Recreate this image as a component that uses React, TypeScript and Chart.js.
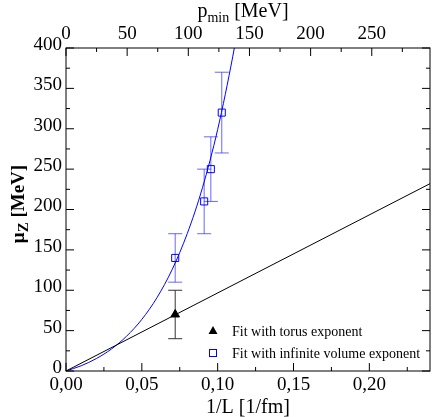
import React, { useEffect, useRef } from 'react';
import { Chart, registerables } from 'chart.js';
Chart.register(...registerables);

const SERIF = '"Liberation Serif", "Times New Roman", Times, serif';

// ---- data ----
const infX = [0.072, 0.0911, 0.0955, 0.1027];
const infY = [140, 210, 250, 320];
const infErr = [30, 40, 40, 50];

const torX = [0.072];
const torY = [70];
const torErr = [30];

const torFitX = [0, 0.24];
const torFitY = [0, 232];

const infFitX = [0, 0.01, 0.02, 0.03, 0.04, 0.05, 0.06, 0.07, 0.08, 0.09, 0.1, 0.11, 0.115];
const infFitY = [0, 6.5, 15.4, 27.3, 43.2, 63.9, 90.9, 125.7, 170.4, 227.1, 299.1, 389.9, 443];

const xTicks = [0, 0.05, 0.1, 0.15, 0.2];
const xTickLabels = ['0,00', '0,05', '0,10', '0,15', '0,20'];
const pTicks = [0, 50, 100, 150, 200, 250];
const yTicks = [0, 50, 100, 150, 200, 250, 300, 350, 400];

const legendLabels = ['Fit with torus exponent', 'Fit with infinite volume exponent'];

const X_MAX = 0.24;
const P_MAX = 297.6;
const Y_MAX = 400;

const BLUE = '#0000ff';

const pts = (xs: number[], ys: number[]) => xs.map((x, i) => ({ x, y: ys[i] }));

const decor = {
  id: 'decor',
  beforeDatasetsDraw(chart: any) {
    const { ctx } = chart;
    const x = chart.scales.x;
    const y = chart.scales.y;
    ctx.save();
    ctx.lineWidth = 1;
    const bars = (xs: number[], ys: number[], es: number[], color: string) => {
      ctx.strokeStyle = color;
      xs.forEach((xv, i) => {
        const px = x.getPixelForValue(xv);
        const pt = y.getPixelForValue(ys[i] + es[i]);
        const pb = y.getPixelForValue(ys[i] - es[i]);
        ctx.beginPath();
        ctx.moveTo(px, pt);
        ctx.lineTo(px, pb);
        ctx.moveTo(px - 7, pt);
        ctx.lineTo(px + 7, pt);
        ctx.moveTo(px - 7, pb);
        ctx.lineTo(px + 7, pb);
        ctx.stroke();
      });
    };
    bars(infX, infY, infErr, 'rgba(40,40,255,0.7)');
    bars(torX, torY, torErr, '#333');
    ctx.restore();
  },
  afterDraw(chart: any) {
    const { ctx, chartArea } = chart;
    const { left, right, top, bottom } = chartArea;
    const x = chart.scales.x;
    const x2 = chart.scales.x2;
    const y = chart.scales.y;
    ctx.save();
    ctx.strokeStyle = '#000';
    ctx.lineWidth = 1;
    // frame
    ctx.strokeRect(left, top, right - left, bottom - top);

    const line = (a: number, b: number, c: number, d: number) => {
      ctx.beginPath();
      ctx.moveTo(a, b);
      ctx.lineTo(c, d);
      ctx.stroke();
    };
    const MAJ = 8;
    const MIN = 4;
    // bottom axis ticks
    const xs = xTicks[1] - xTicks[0];
    xTicks.forEach((v) => {
      const p = x.getPixelForValue(v);
      line(p, bottom, p, bottom - MAJ);
      if (v + xs / 2 < X_MAX) {
        const q = x.getPixelForValue(v + xs / 2);
        line(q, bottom, q, bottom - MIN);
      }
    });
    // top axis ticks
    const ps = pTicks[1] - pTicks[0];
    pTicks.forEach((v) => {
      const p = x2.getPixelForValue(v);
      line(p, top, p, top + MAJ);
      if (v + ps / 2 < P_MAX) {
        const q = x2.getPixelForValue(v + ps / 2);
        line(q, top, q, top + MIN);
      }
    });
    // left & right ticks
    const ys = yTicks[1] - yTicks[0];
    yTicks.forEach((v) => {
      const p = y.getPixelForValue(v);
      line(left, p, left + MAJ, p);
      line(right, p, right - MAJ, p);
      if (v + ys / 2 < Y_MAX) {
        const q = y.getPixelForValue(v + ys / 2);
        line(left, q, left + MIN, q);
        line(right, q, right - MIN, q);
      }
    });

    // titles
    ctx.fillStyle = '#000';
    ctx.textBaseline = 'alphabetic';
    const cx = (left + right) / 2;
    ctx.textAlign = 'center';
    ctx.font = `20px ${SERIF}`;
    ctx.fillText('1/L [1/fm]', cx, 413);

    // top title p_min [MeV]
    ctx.textAlign = 'left';
    const fBig = `20px ${SERIF}`;
    const fSub = `14px ${SERIF}`;
    ctx.font = fBig;
    const wp = ctx.measureText('p').width;
    const wr = ctx.measureText(' [MeV]').width;
    ctx.font = fSub;
    const wm = ctx.measureText('min').width;
    let sx = cx - 5 - (wp + wm + wr) / 2;
    ctx.font = fBig;
    ctx.fillText('p', sx, 17);
    sx += wp;
    ctx.font = fSub;
    ctx.fillText('min', sx, 22);
    sx += wm;
    ctx.font = fBig;
    ctx.fillText(' [MeV]', sx, 17);

    // y title μ_Z [MeV]
    ctx.save();
    ctx.translate(24, 204);
    ctx.rotate(-Math.PI / 2);
    const yBig = `bold 19px ${SERIF}`;
    const ySub = `bold 15px ${SERIF}`;
    ctx.font = yBig;
    const wmu = ctx.measureText('\u03bc').width;
    const wrest = ctx.measureText(' [MeV]').width;
    ctx.font = ySub;
    const wz = ctx.measureText('Z').width;
    let ty = -(wmu + wz + wrest) / 2;
    ctx.font = yBig;
    ctx.fillText('\u03bc', ty, 0);
    ty += wmu;
    ctx.font = ySub;
    ctx.fillText('Z', ty, 4);
    ty += wz;
    ctx.font = yBig;
    ctx.fillText(' [MeV]', ty, 0);
    ctx.restore();

    // legend
    ctx.font = `14px ${SERIF}`;
    ctx.textBaseline = 'middle';
    ctx.textAlign = 'left';
    const lx = 213;
    const ly1 = 331;
    const ly2 = 353;
    ctx.fillStyle = '#000';
    ctx.beginPath();
    ctx.moveTo(lx, ly1 - 5);
    ctx.lineTo(lx + 4.5, ly1 + 3);
    ctx.lineTo(lx - 4.5, ly1 + 3);
    ctx.closePath();
    ctx.fill();
    ctx.fillText(legendLabels[0], 232, ly1 + 1);
    ctx.strokeStyle = BLUE;
    ctx.strokeRect(lx - 3.5, ly2 - 3.5, 7, 7);
    ctx.fillStyle = '#000';
    ctx.fillText(legendLabels[1], 232, ly2 + 1);
    ctx.restore();
  },
};

export default function App() {
  const ref = useRef<HTMLCanvasElement | null>(null);
  useEffect(() => {
    if (!ref.current) return;
    const tickFont = { family: SERIF, size: 19 };
    const chart = new Chart(ref.current, {
      type: 'scatter',
      data: {
        datasets: [
          {
            type: 'line',
            data: pts(torFitX, torFitY),
            borderColor: '#000',
            borderWidth: 1,
            pointRadius: 0,
            fill: false,
            xAxisID: 'x',
            yAxisID: 'y',
          },
          {
            type: 'line',
            data: pts(infFitX, infFitY),
            borderColor: BLUE,
            borderWidth: 1,
            pointRadius: 0,
            fill: false,
            cubicInterpolationMode: 'monotone',
            xAxisID: 'x',
            yAxisID: 'y',
          },
          {
            data: pts(infX, infY),
            pointStyle: 'rect',
            pointRadius: 5,
            pointBorderColor: BLUE,
            pointBackgroundColor: 'rgba(0,0,0,0)',
            pointBorderWidth: 1,
            showLine: false,
            xAxisID: 'x',
            yAxisID: 'y',
          },
          {
            data: pts(torX, torY),
            pointStyle: 'triangle',
            pointRadius: 5,
            pointBorderColor: '#000',
            pointBackgroundColor: '#000',
            pointBorderWidth: 1,
            showLine: false,
            xAxisID: 'x',
            yAxisID: 'y',
          },
        ],
      } as any,
      options: {
        responsive: false,
        animation: false,
        events: [],
        layout: { padding: { left: 0, right: 1, top: 0, bottom: 0 } },
        plugins: { legend: { display: false }, tooltip: { enabled: false } },
        scales: {
          x: {
            type: 'linear',
            position: 'bottom',
            min: 0,
            max: X_MAX,
            grid: { display: false, drawTicks: false },
            border: { display: false },
            ticks: {
              font: tickFont,
              color: '#000',
              padding: 3,
              maxRotation: 0,
              autoSkip: false,
              callback: (v: any) => {
                const i = xTicks.indexOf(v);
                return i >= 0 ? xTickLabels[i] : '';
              },
            },
            afterBuildTicks: (s: any) => {
              s.ticks = xTicks.map((v) => ({ value: v }));
            },
            afterFit: (s: any) => {
              s.height = 46;
            },
          },
          x2: {
            type: 'linear',
            position: 'top',
            min: 0,
            max: P_MAX,
            grid: { display: false, drawTicks: false },
            border: { display: false },
            ticks: { font: tickFont, color: '#000', padding: 3, maxRotation: 0, autoSkip: false },
            afterBuildTicks: (s: any) => {
              s.ticks = pTicks.map((v) => ({ value: v }));
            },
            afterFit: (s: any) => {
              s.height = 48;
            },
          },
          y: {
            type: 'linear',
            position: 'left',
            min: 0,
            max: Y_MAX,
            grid: { display: false, drawTicks: false },
            border: { display: false },
            ticks: { font: tickFont, color: '#000', padding: 4, labelOffset: -3, autoSkip: false },
            afterBuildTicks: (s: any) => {
              s.ticks = yTicks.map((v) => ({ value: v }));
            },
            afterFit: (s: any) => {
              s.width = 66;
            },
          },
        },
      } as any,
      plugins: [decor],
    });
    return () => chart.destroy();
  }, []);
  return (
    <div style={{ position: 'fixed', left: 0, top: 0, width: 436, height: 417, background: '#fff' }}>
      <canvas ref={ref} width={436} height={417} />
    </div>
  );
}
